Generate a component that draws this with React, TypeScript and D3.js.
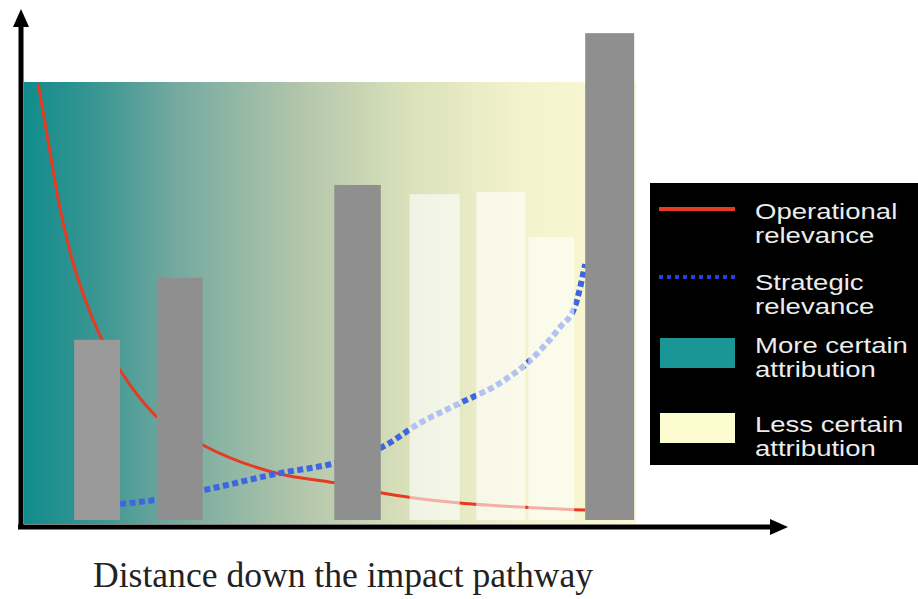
import React from "react";
import * as d3 from "d3";

// Bars along the pathway (x in distance units 0–100, height in relevance units)
const barStart = [8.2, 21.7, 50.7, 63.0, 73.9, 82.4, 91.7];
const barEnd = [15.7, 29.2, 58.3, 71.2, 81.9, 89.9, 99.7];
const barValue = [41.4, 55.5, 76.6, 74.5, 75.0, 64.8, 111.1];
const barKind = ["solid", "solid", "solid", "faint", "faint", "faint", "solid"];

// Operational relevance: falls steeply with distance
const operationalX = [2.3, 4.2, 5.6, 7.8, 10, 12.4, 15.7, 21.4, 29.2, 41.8, 50.8, 58.5, 71.2, 81, 91.7];
const operationalY = [99.8, 84.5, 73.2, 60, 50.5, 42.4, 34.5, 24.3, 17.5, 10.9, 8.9, 6.6, 4.3, 3.4, 2.7];

// Strategic relevance: rises with distance
const strategicX = [15.7, 21.4, 29.6, 41.8, 50.8, 58.5, 64.7, 71.2, 77.8, 82.2, 87.6, 90, 91.7];
const strategicY = [4.1, 5, 7.3, 11.1, 13.4, 17, 22.5, 27, 31.6, 36.1, 44.3, 48.9, 58.6];

const legendLabels = [
  ["Operational", "relevance"],
  ["Strategic", "relevance"],
  ["More certain", "attribution"],
  ["Less certain", "attribution"],
];

const xTitle = "Distance down the impact pathway";

const W = 918;
const H = 599;

export default function App() {
  const x = d3.scaleLinear().domain([0, 100]).range([24, 636]);
  const y = d3.scaleLinear().domain([0, 100]).range([522, 82]);

  const line = d3
    .line<[number, number]>()
    .x((d) => x(d[0]))
    .y((d) => y(d[1]))
    .curve(d3.curveMonotoneX);

  const opPts = operationalX.map((v, i) => [v, operationalY[i]] as [number, number]);
  const stPts = strategicX.map((v, i) => [v, strategicY[i]] as [number, number]);

  const [x0, x1] = x.range();
  const [yBottom, yTop] = y.range();
  const axisY = yBottom + 5;
  const axisX = x0 - 3;

  const legendRows = [219, 290, 353, 432];

  return (
    <svg
      width={W}
      height={H}
      viewBox={`0 0 ${W} ${H}`}
      style={{ position: "absolute", left: 0, top: 0, background: "#fff" }}
    >
      <defs>
        <linearGradient id="attribution" x1="0" x2="1" y1="0" y2="0">
          <stop offset="0" stopColor="#118c8c" />
          <stop offset="0.12" stopColor="#3a9693" />
          <stop offset="0.25" stopColor="#75aa9f" />
          <stop offset="0.45" stopColor="#b2c5ab" />
          <stop offset="0.62" stopColor="#d8e0ba" />
          <stop offset="0.8" stopColor="#f2f2cc" />
          <stop offset="1" stopColor="#fbf9d5" />
        </linearGradient>
      </defs>

      {/* attribution certainty background */}
      <rect x={x0} y={yTop} width={x1 - x0} height={yBottom - yTop + 2} fill="url(#attribution)" />

      {/* relevance curves */}
      <path d={line(opPts) ?? ""} fill="none" stroke="#e63a22" strokeWidth={3} />
      <path
        d={line(stPts) ?? ""}
        fill="none"
        stroke="#3f66e2"
        strokeWidth={6}
        strokeDasharray="6 3.5"
      />

      {/* bars */}
      {barValue.map((v, i) => (
        <rect
          key={i}
          x={x(barStart[i])}
          y={y(v)}
          width={x(barEnd[i]) - x(barStart[i])}
          height={y(0) - y(v) - 2}
          fill={barKind[i] === "solid" ? (i === 0 ? "#9a9a9a" : "#8f8f8f") : "#ffffff"}
          fillOpacity={barKind[i] === "solid" ? 1 : 0.6}
        />
      ))}

      {/* legend */}
      <rect x={650} y={183} width={W - 650} height={282} fill="#000" />
      <line x1={659} x2={735} y1={209} y2={209} stroke="#e63a22" strokeWidth={4} />
      <line
        x1={659}
        x2={735}
        y1={277}
        y2={277}
        stroke="#2b3fe0"
        strokeWidth={4}
        strokeDasharray="4 4"
      />
      <rect x={660} y={338} width={75} height={30} fill="#1a9696" />
      <rect x={660} y={413} width={75} height={30} fill="#fdfbd0" />
      {legendLabels.map((lines, i) => (
        <g key={i} transform={`translate(755,${legendRows[i]}) scale(1.28,1)`}>
          {lines.map((t, j) => (
            <text
              key={j}
              x={0}
              y={j * 24.5}
              fill="#ececec"
              fontFamily="Liberation Sans, Arial, sans-serif"
              fontSize={21.5}
            >
              {t}
            </text>
          ))}
        </g>
      ))}

      {/* axes with arrowheads */}
      <line x1={axisX} x2={axisX} y1={axisY + 2} y2={24} stroke="#000" strokeWidth={5} />
      <path d={`M${axisX},9 L${axisX - 8},27 L${axisX + 8},27 Z`} fill="#000" />
      <line x1={axisX - 3} x2={772} y1={axisY} y2={axisY} stroke="#000" strokeWidth={5} />
      <path d={`M788,${axisY} L770,${axisY - 8} L770,${axisY + 8} Z`} fill="#000" />

      {/* axis title */}
      <text
        x={93}
        y={587}
        fill="#222"
        fontFamily="Liberation Serif, Times New Roman, serif"
        fontSize={35}
        textLength={500}
        lengthAdjust="spacingAndGlyphs"
      >
        {xTitle}
      </text>
    </svg>
  );
}
